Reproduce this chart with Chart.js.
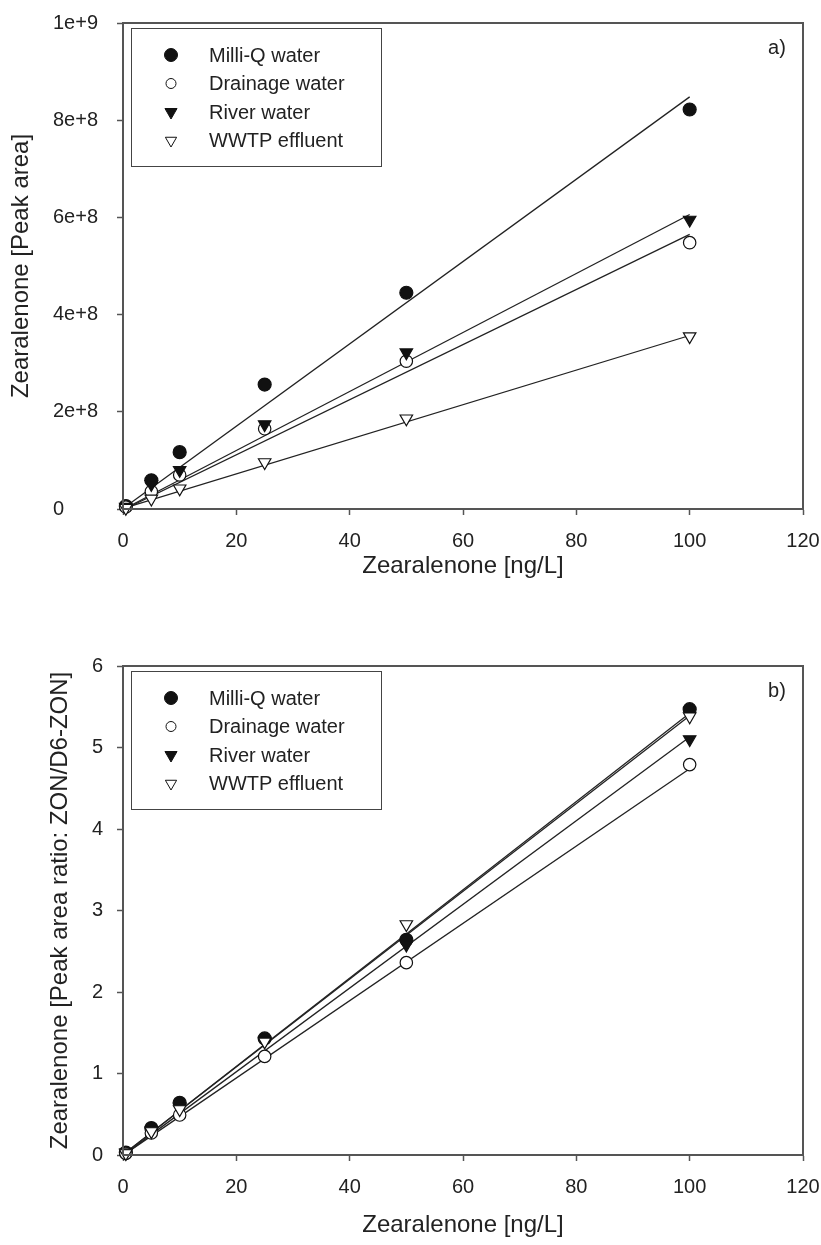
<!DOCTYPE html>
<html>
<head>
<meta charset="utf-8">
<script src="https://cdn.jsdelivr.net/npm/chart.js@4.4.1/dist/chart.umd.min.js"></script>
<style>
  body { margin: 0; background: #fff; }
  canvas { position: absolute; left: 0; }
  #chartA { top: 0; }
  #chartB { top: 625px; }
</style>
</head>
<body>
<canvas id="chartA" width="821" height="625"></canvas>
<canvas id="chartB" width="821" height="620"></canvas>
<script>
// calibration data
const seriesNames = ['Milli-Q water', 'Drainage water', 'River water', 'WWTP effluent'];
const concentrations = [0.5, 5, 10, 25, 50, 100];

// a) peak area
const areaMilliQ = [6e6, 5.9e7, 1.17e8, 2.56e8, 4.45e8, 8.22e8];
const areaDrainage = [4e6, 3.6e7, 7.0e7, 1.65e8, 3.04e8, 5.48e8];
const areaRiver = [4e6, 5.1e7, 8.0e7, 1.74e8, 3.22e8, 5.95e8];
const areaWwtp = [2e6, 2.1e7, 4.2e7, 9.6e7, 1.86e8, 3.55e8];

// b) peak area ratio ZON/D6-ZON
const ratioMilliQ = [0.03, 0.33, 0.64, 1.43, 2.64, 5.47];
const ratioDrainage = [0.02, 0.27, 0.49, 1.21, 2.36, 4.79];
const ratioRiver = [0.03, 0.30, 0.59, 1.40, 2.58, 5.10];
const ratioWwtp = [0.02, 0.29, 0.56, 1.39, 2.83, 5.38];

// regression lines: value at fitX[0] and fitX[1], same order as seriesNames
const fitX = [0.5, 100];
const fitAreaStart = [5e6, 1e6, 2e6, 3e6];
const fitAreaEnd = [8.48e8, 5.65e8, 6.06e8, 3.57e8];
const fitRatioStart = [0.03, 0.02, 0.02, 0.03];
const fitRatioEnd = [5.42, 4.74, 5.13, 5.39];

// tick labels
const xTickLabels = ['0', '20', '40', '60', '80', '100', '120'];
const areaTickLabels = ['0', '2e+8', '4e+8', '6e+8', '8e+8', '1e+9'];
const ratioTickLabels = ['0', '1', '2', '3', '4', '5', '6'];

const FONT = '"Liberation Sans", Arial, Helvetica, sans-serif';
const INK = '#222';
const AXIS = '#555';

Chart.defaults.font.family = FONT;
Chart.defaults.color = INK;

// marker look per series
const markers = [
  { pointStyle: 'circle', radius: 6.5, rotation: 0, fill: '#111' },
  { pointStyle: 'circle', radius: 6.2, rotation: 0, fill: '#fff' },
  { pointStyle: 'triangle', radius: 7.2, rotation: 180, fill: '#111' },
  { pointStyle: 'triangle', radius: 7.2, rotation: 180, fill: '#fff' },
];
const legendRadius = [6.5, 5, 7, 6.5];

function toPoints(xs, ys) {
  return xs.map((x, i) => ({ x: x, y: ys[i] }));
}

// frame round the plot area, the panel letter and the legend box
const framePlugin = {
  id: 'frame',
  afterDraw(chart, args, opts) {
    const { ctx, chartArea } = chart;
    ctx.save();
    ctx.strokeStyle = AXIS;
    ctx.lineWidth = 2;
    ctx.strokeRect(chartArea.left, chartArea.top, chartArea.width, chartArea.height);

    // panel label
    ctx.fillStyle = INK;
    ctx.font = '20px ' + FONT;
    ctx.textAlign = 'center';
    ctx.textBaseline = 'middle';
    ctx.fillText(opts.panel, chartArea.right - 26, chartArea.top + 25);

    // legend
    const bx = chartArea.left + 8;
    const by = chartArea.top + 5;
    ctx.lineWidth = 1;
    ctx.strokeStyle = '#444';
    ctx.strokeRect(bx + 0.5, by + 0.5, 250, 138);
    ctx.textAlign = 'left';
    seriesNames.forEach((name, i) => {
      const y = by + 27 + i * 28.5;
      const m = markers[i];
      ctx.fillStyle = m.fill;
      ctx.strokeStyle = '#111';
      Chart.helpers.drawPoint(ctx, {
        pointStyle: m.pointStyle,
        radius: legendRadius[i],
        rotation: m.rotation,
        borderWidth: 1.2,
      }, bx + 40, y);
      ctx.fillStyle = INK;
      ctx.fillText(name, bx + 78, y + 1);
    });
    ctx.restore();
  },
};

function makeChart(canvasId, cfg) {
  const datasets = [];
  cfg.series.forEach((ys, i) => {
    const m = markers[i];
    datasets.push({
      type: 'scatter',
      label: seriesNames[i],
      data: toPoints(concentrations, ys),
      pointStyle: m.pointStyle,
      pointRadius: m.radius,
      pointRotation: m.rotation,
      pointBackgroundColor: m.fill,
      pointBorderColor: '#111',
      pointBorderWidth: 1.2,
      order: 4 - i,
      clip: false,
    });
  });
  cfg.fitStart.forEach((y0, i) => {
    datasets.push({
      type: 'line',
      label: seriesNames[i] + ' fit',
      data: toPoints(fitX, [y0, cfg.fitEnd[i]]),
      borderColor: '#222',
      borderWidth: 1.3,
      pointRadius: 0,
      fill: false,
      order: 10 + i,
    });
  });

  return new Chart(document.getElementById(canvasId), {
    data: { datasets: datasets },
    plugins: [framePlugin],
    options: {
      responsive: false,
      animation: false,
      devicePixelRatio: 1,
      layout: { padding: { top: cfg.top, right: 18, left: cfg.left, bottom: 0 } },
      plugins: {
        legend: { display: false },
        tooltip: { enabled: false },
        frame: { panel: cfg.panel },
      },
      scales: {
        x: {
          type: 'linear',
          position: 'bottom',
          min: 0,
          max: 120,
          ticks: {
            stepSize: 20,
            padding: 14,
            font: { size: 20 },
            color: INK,
            callback: (v, idx) => xTickLabels[idx],
          },
          grid: { drawOnChartArea: false, drawTicks: true, tickLength: 6, tickColor: AXIS, tickWidth: 1.5 },
          border: { color: AXIS, width: 2 },
          title: {
            display: true,
            text: 'Zearalenone [ng/L]',
            font: { size: 24 },
            color: INK,
            padding: { top: 0, bottom: cfg.xTitlePad },
          },
          afterFit: (scale) => {
            scale.height = cfg.xHeight;
            // let the layout padding alone decide the plot edges
            scale.paddingLeft = 0;
            scale.paddingRight = 0;
          },
        },
        y: {
          type: 'linear',
          position: 'left',
          min: 0,
          max: cfg.yMax,
          ticks: {
            stepSize: cfg.yStep,
            padding: cfg.yTickPad,
            crossAlign: cfg.crossAlign,
            font: { size: 20 },
            color: INK,
            callback: (v, idx) => cfg.yLabels[idx],
          },
          grid: { drawOnChartArea: false, drawTicks: true, tickLength: 6, tickColor: AXIS, tickWidth: 1.5 },
          border: { color: AXIS, width: 2 },
          title: {
            display: true,
            text: cfg.yTitle,
            font: { size: 24 },
            color: INK,
            padding: { top: cfg.yTitlePad, bottom: 0 },
          },
          afterFit: (scale) => {
            scale.width = 123 - cfg.left;
            scale.paddingTop = 0;
            scale.paddingBottom = 0;
          },
        },
      },
    },
  });
}

// top panel: labels start flush left at x=53, title sits left of them
makeChart('chartA', {
  panel: 'a)',
  series: [areaMilliQ, areaDrainage, areaRiver, areaWwtp],
  fitStart: fitAreaStart,
  fitEnd: fitAreaEnd,
  yMax: 1e9,
  yStep: 2e8,
  yLabels: areaTickLabels,
  yTitle: 'Zearalenone [Peak area]',
  yTickPad: 5,
  crossAlign: 'far',
  left: 53,
  yTitlePad: -46.4,
  top: 23,
  xHeight: 116,
  xTitlePad: 44.6,
});

makeChart('chartB', {
  panel: 'b)',
  series: [ratioMilliQ, ratioDrainage, ratioRiver, ratioWwtp],
  fitStart: fitRatioStart,
  fitEnd: fitRatioEnd,
  yMax: 6,
  yStep: 1,
  yLabels: ratioTickLabels,
  yTitle: 'Zearalenone [Peak area ratio: ZON/D6-ZON]',
  yTickPad: 14,
  crossAlign: 'near',
  left: 0,
  yTitlePad: 45.6,
  top: 41,
  xHeight: 90,
  xTitlePad: 5.6,
});
</script>
</body>
</html>
